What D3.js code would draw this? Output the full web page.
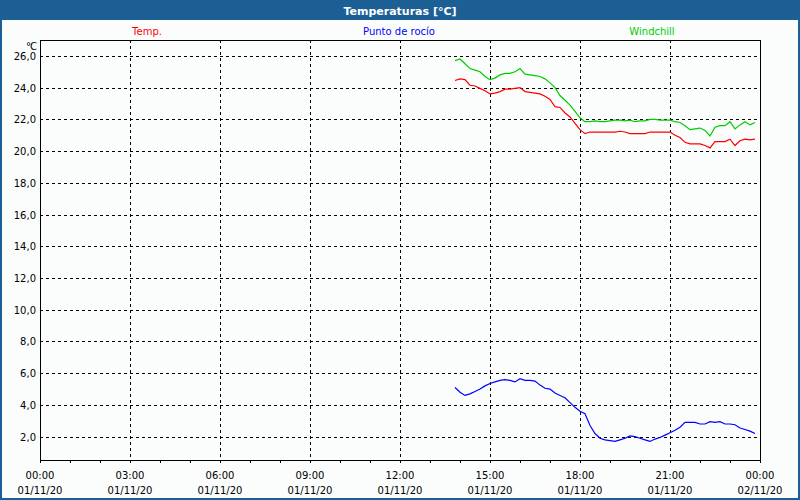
<!DOCTYPE html>
<html><head><meta charset="utf-8">
<script src="https://cdn.jsdelivr.net/npm/d3@7"></script>
<style>html,body{margin:0;padding:0;background:#fbfdfd;}svg{display:block;}</style>
</head><body>
<svg id="c" width="800" height="500"></svg>
<script>
const title = "Temperaturas [°C]";
const unitLabel = "°C";
const seriesNames = ["Temp.", "Punto de rocío", "Windchill"];
const seriesColors = ["#ff0000", "#0000ff", "#00cc00"];
const yTicks = [2,4,6,8,10,12,14,16,18,20,22,24,26];
const xTickHours = [0,3,6,9,12,15,18,21,24];
const xTickLabels = [["00:00","01/11/20"],["03:00","01/11/20"],["06:00","01/11/20"],["09:00","01/11/20"],["12:00","01/11/20"],["15:00","01/11/20"],["18:00","01/11/20"],["21:00","01/11/20"],["00:00","02/11/20"]];
const times = ["13:50","14:00","14:10","14:20","14:30","14:40","14:50","15:00","15:10","15:20","15:30","15:40","15:50","16:00","16:10","16:20","16:30","16:40","16:50","17:00","17:10","17:20","17:30","17:40","17:50","18:00","18:10","18:20","18:30","18:40","18:50","19:00","19:10","19:20","19:30","19:40","19:50","20:00","20:10","20:20","20:30","20:40","20:50","21:00","21:10","21:20","21:30","21:40","21:50","22:00","22:10","22:20","22:30","22:40","22:50","23:00","23:10","23:20","23:30","23:40","23:50"];
const temp = [24.45,24.55,24.5,24.15,24.1,23.95,23.8,23.6,23.65,23.75,23.9,23.9,23.95,24.0,23.75,23.7,23.65,23.6,23.45,23.25,22.8,22.75,22.4,22.15,21.75,21.35,21.1,21.2,21.2,21.2,21.2,21.2,21.2,21.25,21.2,21.1,21.1,21.1,21.1,21.2,21.2,21.2,21.2,21.2,21.0,20.85,20.55,20.45,20.45,20.45,20.35,20.2,20.6,20.6,20.6,20.75,20.35,20.65,20.75,20.7,20.75];
const dew = [5.1,4.8,4.6,4.7,4.85,5.0,5.2,5.35,5.45,5.55,5.6,5.55,5.45,5.65,5.55,5.55,5.5,5.25,5.05,5.0,4.75,4.6,4.45,4.15,3.85,3.6,3.45,2.7,2.2,1.9,1.8,1.75,1.7,1.8,1.9,2.05,2.0,1.9,1.8,1.7,1.85,1.95,2.1,2.25,2.4,2.6,2.9,2.9,2.9,2.8,2.8,2.95,2.9,2.95,2.8,2.8,2.75,2.55,2.45,2.35,2.2];
const windchill = [25.7,25.8,25.5,25.2,25.1,25.0,24.7,24.5,24.6,24.8,24.9,24.9,25.0,25.2,24.85,24.8,24.75,24.7,24.55,24.3,24.0,23.5,23.2,22.9,22.5,22.1,21.85,21.85,21.9,21.85,21.85,21.9,21.95,21.95,21.9,21.95,21.85,21.9,21.9,22.0,22.0,21.95,21.95,21.95,21.85,21.8,21.6,21.35,21.4,21.45,21.3,20.95,21.5,21.6,21.6,21.85,21.4,21.65,21.85,21.65,21.8];
const yDomain = [0.53, 27.0];

const svg = d3.select("#c");
const W = 800, H = 500;
const L = 40, R = 760, T = 40, B = 460;
const font = "'DejaVu Sans', Verdana, sans-serif";

svg.append("rect").attr("width", W).attr("height", H).attr("fill", "#fbfdfd");
svg.append("rect").attr("width", W).attr("height", 20).attr("fill", "#1c5f95");
svg.append("rect").attr("x", 1).attr("y", 1).attr("width", W-2).attr("height", H-2)
  .attr("fill", "none").attr("stroke", "#1c5f95").attr("stroke-width", 2);
svg.append("text").attr("x", W/2).attr("y", 14.5).attr("text-anchor", "middle")
  .attr("fill", "#ffffff").attr("font-family", font).attr("font-weight", "bold").attr("font-size", 11)
  .text(title);

const toHours = s => { const [h, m] = s.split(":").map(Number); return h + m/60; };
const x = d3.scaleLinear().domain([0, 24]).range([L, R]);
const y = d3.scaleLinear().domain(yDomain).range([B, T]);

// gridlines
const g = svg.append("g").attr("shape-rendering", "crispEdges");
g.selectAll(".hg").data(yTicks).join("line")
  .attr("x1", L).attr("x2", R).attr("y1", d => Math.round(y(d)) + 0.5).attr("y2", d => Math.round(y(d)) + 0.5)
  .attr("stroke", "#000").attr("stroke-dasharray", "3,3");
g.selectAll(".vg").data(xTickHours.filter(h => h > 0 && h < 24)).join("line")
  .attr("x1", d => Math.round(x(d)) + 0.5).attr("x2", d => Math.round(x(d)) + 0.5).attr("y1", T).attr("y2", B)
  .attr("stroke", "#000").attr("stroke-dasharray", "3,3");

// x axis with hourly minor ticks
const xAxis = d3.axisBottom(x).tickValues(d3.range(0, 25, 1)).tickSize(3).tickFormat("");
const xa = svg.append("g").attr("transform", `translate(0,${B})`).attr("shape-rendering", "crispEdges").call(xAxis);
xa.select(".domain").remove();
xa.selectAll(".tick line").attr("stroke", "#000");

// frame
svg.append("rect").attr("x", L + 0.5).attr("y", T + 0.5).attr("width", R - L).attr("height", B - T)
  .attr("fill", "none").attr("stroke", "#000").attr("shape-rendering", "crispEdges");

// y labels
svg.selectAll(".yl").data(yTicks).join("text")
  .attr("x", 36).attr("y", d => y(d) + 4).attr("text-anchor", "end")
  .attr("font-family", font).attr("font-size", 10).attr("fill", "#000")
  .text(d => d.toFixed(1).replace(".", ","));
svg.append("text").attr("x", 36).attr("y", 50).attr("text-anchor", "end")
  .attr("font-family", font).attr("font-size", 10).attr("fill", "#000").attr("letter-spacing", -1).text(unitLabel);

// x labels
xTickHours.forEach((h, i) => {
  const t = svg.append("text").attr("text-anchor", "middle").attr("font-family", font)
    .attr("font-size", 10).attr("fill", "#000");
  t.append("tspan").attr("x", x(h)).attr("y", 479).text(xTickLabels[i][0]);
  t.append("tspan").attr("x", x(h)).attr("y", 494).text(xTickLabels[i][1]);
});

// legend
const legendX = [147, 399, 652];
seriesNames.forEach((n, i) => {
  svg.append("text").attr("x", legendX[i]).attr("y", 35).attr("text-anchor", "middle")
    .attr("font-family", font).attr("font-size", 10).attr("fill", seriesColors[i]).text(n);
});

// lines
const line = d3.line().x((d, i) => x(toHours(times[i]))).y(d => y(d));
[temp, dew, windchill].forEach((s, i) => {
  svg.append("path").datum(s).attr("d", line).attr("fill", "none")
    .attr("stroke", seriesColors[i]).attr("stroke-width", 1.2);
});
</script>
</body></html>
